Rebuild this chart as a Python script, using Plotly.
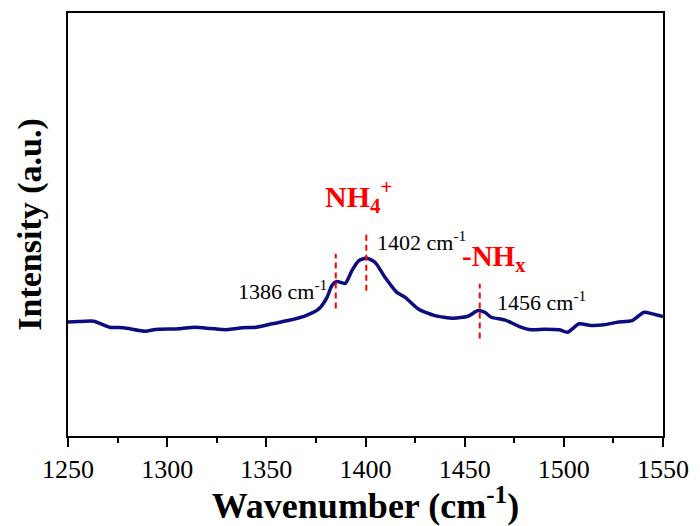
import plotly.graph_objects as go

# Raman spectrum, arbitrary intensity units
wavenumber = [1250, 1255, 1263, 1271, 1278, 1289, 1294, 1306, 1314, 1322, 1330, 1338,
              1345, 1353, 1361, 1370, 1376.5, 1380.6, 1383, 1385.5, 1389.8, 1393.1,
              1396.5, 1400.7, 1404.9, 1409.9, 1415.8, 1420, 1426.6, 1435, 1444.2,
              1451.7, 1456.7, 1460.1, 1463.4, 1470.1, 1477.6, 1483.5, 1490.2, 1497.7,
              1501.9, 1507.7, 1513.6, 1520.3, 1527, 1534.5, 1540.4, 1544.6, 1550]
intensity = [26.94, 27.06, 27.13, 25.72, 25.58, 24.78, 25.18, 25.34, 25.72, 25.41, 25.11, 25.58,
             25.72, 26.52, 27.29, 28.47, 30.05, 32.78, 35.53, 36.54, 36.07, 39.06,
             41.41, 42.05, 41.01, 37.48, 33.95, 32.78, 30.05, 28.47, 27.84,
             28.31, 29.65, 29.25, 28.07, 27.46, 25.88, 25.11, 25.25, 25.11,
             24.54, 26.52, 26.12, 26.28, 26.89, 27.29, 29.25, 28.87, 28.24]

# Peak marker lines
peak_pos = [1385, 1400.4, 1457.6]
peak_low = [30.12, 34.35, 23.06]
peak_high = [43.06, 47.76, 36.0]
peak_labels = ["1386 cm<sup>-1</sup>", "1402 cm<sup>-1</sup>", "1456 cm<sup>-1</sup>"]

FONT = "Liberation Serif"

fig = go.Figure()
fig.add_trace(go.Scatter(x=wavenumber, y=intensity, mode="lines",
                         line=dict(color="#0d0d80", width=3.5, shape="spline", smoothing=0.6),
                         showlegend=False, hoverinfo="skip"))
for p, lo, hi in zip(peak_pos, peak_low, peak_high):
    fig.add_trace(go.Scatter(x=[p, p], y=[lo, hi], mode="lines",
                             line=dict(color="#ff0000", width=2, dash="6px,4px"),
                             showlegend=False, hoverinfo="skip"))

ann = [
    dict(x=1381.5, y=34.6, text=peak_labels[0], xanchor="right", yanchor="middle"),
    dict(x=1405, y=46.2, text=peak_labels[1], xanchor="left", yanchor="middle"),
    dict(x=1465.1, y=31.9, text=peak_labels[2], xanchor="left", yanchor="middle"),
]
for a in ann:
    fig.add_annotation(xref="x", yref="y", showarrow=False,
                       font=dict(family=FONT, size=22, color="black"), **a)

fig.add_annotation(x=1378.5, y=56.6, xref="x", yref="y", showarrow=False,
                   text="<b>NH<sub>4</sub><sup>+</sup></b>", xanchor="left", yanchor="middle",
                   font=dict(family=FONT, size=30, color="#ff0000"))
fig.add_annotation(x=1447.5, y=42.1, xref="x", yref="y", showarrow=False,
                   text="<b>-NH<sub>x</sub></b>", xanchor="left", yanchor="middle",
                   font=dict(family=FONT, size=29, color="#ff0000"))

fig.update_layout(
    width=700, height=526,
    margin=dict(l=68, r=34, t=11, b=90),
    paper_bgcolor="white", plot_bgcolor="white",
    font=dict(family=FONT, color="black"),
    xaxis=dict(range=[1250, 1550], tickvals=[1250, 1300, 1350, 1400, 1450, 1500, 1550],
               ticks="outside", ticklen=9, tickwidth=1.5, tickcolor="black",
               minor=dict(ticks="outside", ticklen=5, tickwidth=1.5, tickcolor="black", dtick=25),
               showline=True, linewidth=2, linecolor="black", mirror=True,
               showgrid=False, zeroline=False,
               tickfont=dict(family=FONT, size=26),
               title=dict(text="<b>Wavenumber (cm<sup>-1</sup>)</b>", font=dict(family=FONT, size=36),
                          standoff=2)),
    yaxis=dict(range=[0, 100], showticklabels=False, ticks="",
               showline=True, linewidth=2, linecolor="black", mirror=True,
               showgrid=False, zeroline=False,
               title=dict(text="<b>Intensity (a.u.)</b>", font=dict(family=FONT, size=34),
                          standoff=14)),
)

fig.write_html("out.html", config={"displayModeBar": False})
with open("out.html", "r", encoding="utf-8") as f:
    html = f.read()
html = html.replace("<body>", '<body style="margin:0;padding:0;">', 1)
with open("out.html", "w", encoding="utf-8") as f:
    f.write(html)
